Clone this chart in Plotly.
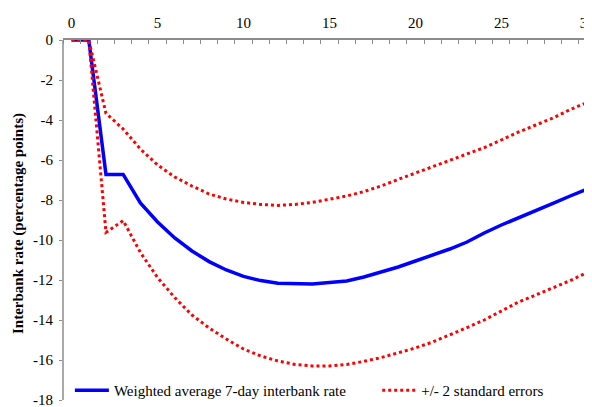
import plotly.graph_objects as go

# months after the shock
horizon = list(range(0, 31))

# weighted average 7-day interbank rate response
rate_response = [0, 0, -6.72, -6.72, -8.15, -9.1, -9.9, -10.55, -11.08, -11.5,
                 -11.82, -12.03, -12.16, -12.2, -12.2, -12.13, -12.05, -11.85, -11.6, -11.35,
                 -11.05, -10.75, -10.45, -10.1, -9.65, -9.25, -8.9, -8.55, -8.17, -7.8,
                 -7.45]

# +/- 2 standard error bands
upper_band = [0, 0, -3.67, -4.45, -5.45, -6.25, -6.85, -7.3, -7.7, -7.95,
              -8.12, -8.22, -8.27, -8.22, -8.12, -7.97, -7.8, -7.58, -7.3, -6.97,
              -6.65, -6.33, -6.03, -5.72, -5.38, -5.0, -4.6, -4.25, -3.9, -3.48,
              -3.12]
lower_band = [0, 0, -9.62, -9.03, -10.62, -11.88, -12.88, -13.75, -14.4, -14.95,
              -15.45, -15.8, -16.05, -16.22, -16.3, -16.3, -16.22, -16.07, -15.88, -15.65,
              -15.4, -15.1, -14.75, -14.38, -14.0, -13.55, -13.1, -12.75, -12.4, -12.03,
              -11.62]

x_ticks = [0, 5, 10, 15, 20, 25, 30]
y_ticks = [0, -2, -4, -6, -8, -10, -12, -14, -16, -18]
# Excel style labels use a plain hyphen, not the unicode minus
y_tick_text = ["0", "-2", "-4", "-6", "-8", "-10", "-12", "-14", "-16", "-18"]

FONT = "Liberation Serif"
FONT_SIZE = 15
AXIS_GREY = "#8c8c8c"

fig = go.Figure()

fig.add_trace(go.Scatter(x=horizon, y=rate_response, mode="lines",
                         name="Weighted average 7-day interbank rate",
                         line=dict(color="#0000ff", width=3.5), legend="legend"))
fig.add_trace(go.Scatter(x=horizon, y=upper_band, mode="lines",
                         name="+/- 2 standard errors",
                         line=dict(color="#ff0000", width=3, dash="dot"), legend="legend2"))
fig.add_trace(go.Scatter(x=horizon, y=lower_band, mode="lines",
                         name="+/- 2 standard errors", showlegend=False,
                         line=dict(color="#ff0000", width=3, dash="dot")))

# the page body adds an 8px offset, so the figure is 8px smaller and margins shifted.
# plot area runs to the bottom edge and legends sit on it, so nothing pushes the margin
fig.update_layout(
    width=584, height=399,
    margin=dict(l=55, r=0, t=32, b=0),
    paper_bgcolor="white", plot_bgcolor="white",
    font=dict(family=FONT, size=FONT_SIZE, color="black"),
    legend=dict(orientation="h", x=0.013, y=0, xanchor="left", yanchor="bottom",
                itemwidth=34, bgcolor="rgba(0,0,0,0)",
                font=dict(family=FONT, size=FONT_SIZE, color="black")),
    legend2=dict(orientation="h", x=0.594, y=0, xanchor="left", yanchor="bottom",
                 itemwidth=34, bgcolor="rgba(0,0,0,0)",
                 font=dict(family=FONT, size=FONT_SIZE, color="black")),
)

# y axis line stops at -18 like the original
fig.add_shape(type="line", xref="paper", yref="y", x0=0, x1=0, y0=-18, y1=0,
              line=dict(color=AXIS_GREY, width=1.5), layer="above")

fig.update_xaxes(side="top", range=[-0.5, 30.27], tickvals=x_ticks, ticks="",
                 tickfont=dict(family=FONT, size=FONT_SIZE, color="black"),
                 showline=True, linecolor=AXIS_GREY, linewidth=1.5, showgrid=False,
                 zeroline=False, ticklabelstandoff=4, ticklabeloverflow="allow",
                 automargin=False,
                 minor=dict(ticks="inside", tick0=0.5, dtick=1, ticklen=4,
                            tickcolor=AXIS_GREY, showgrid=False))

fig.update_yaxes(range=[-18.35, 0], tickvals=y_ticks, ticktext=y_tick_text,
                 tickfont=dict(family=FONT, size=FONT_SIZE, color="black"),
                 ticks="outside", ticklen=3, ticklabelstandoff=3,
                 ticklabeloverflow="allow", automargin=False,
                 tickcolor=AXIS_GREY, showline=False,
                 showgrid=False, zeroline=False,
                 title=dict(text="<b>Interbank rate (percentage points)</b>",
                            font=dict(family=FONT, size=FONT_SIZE, color="black"), standoff=5))

fig.write_html("out.html")
